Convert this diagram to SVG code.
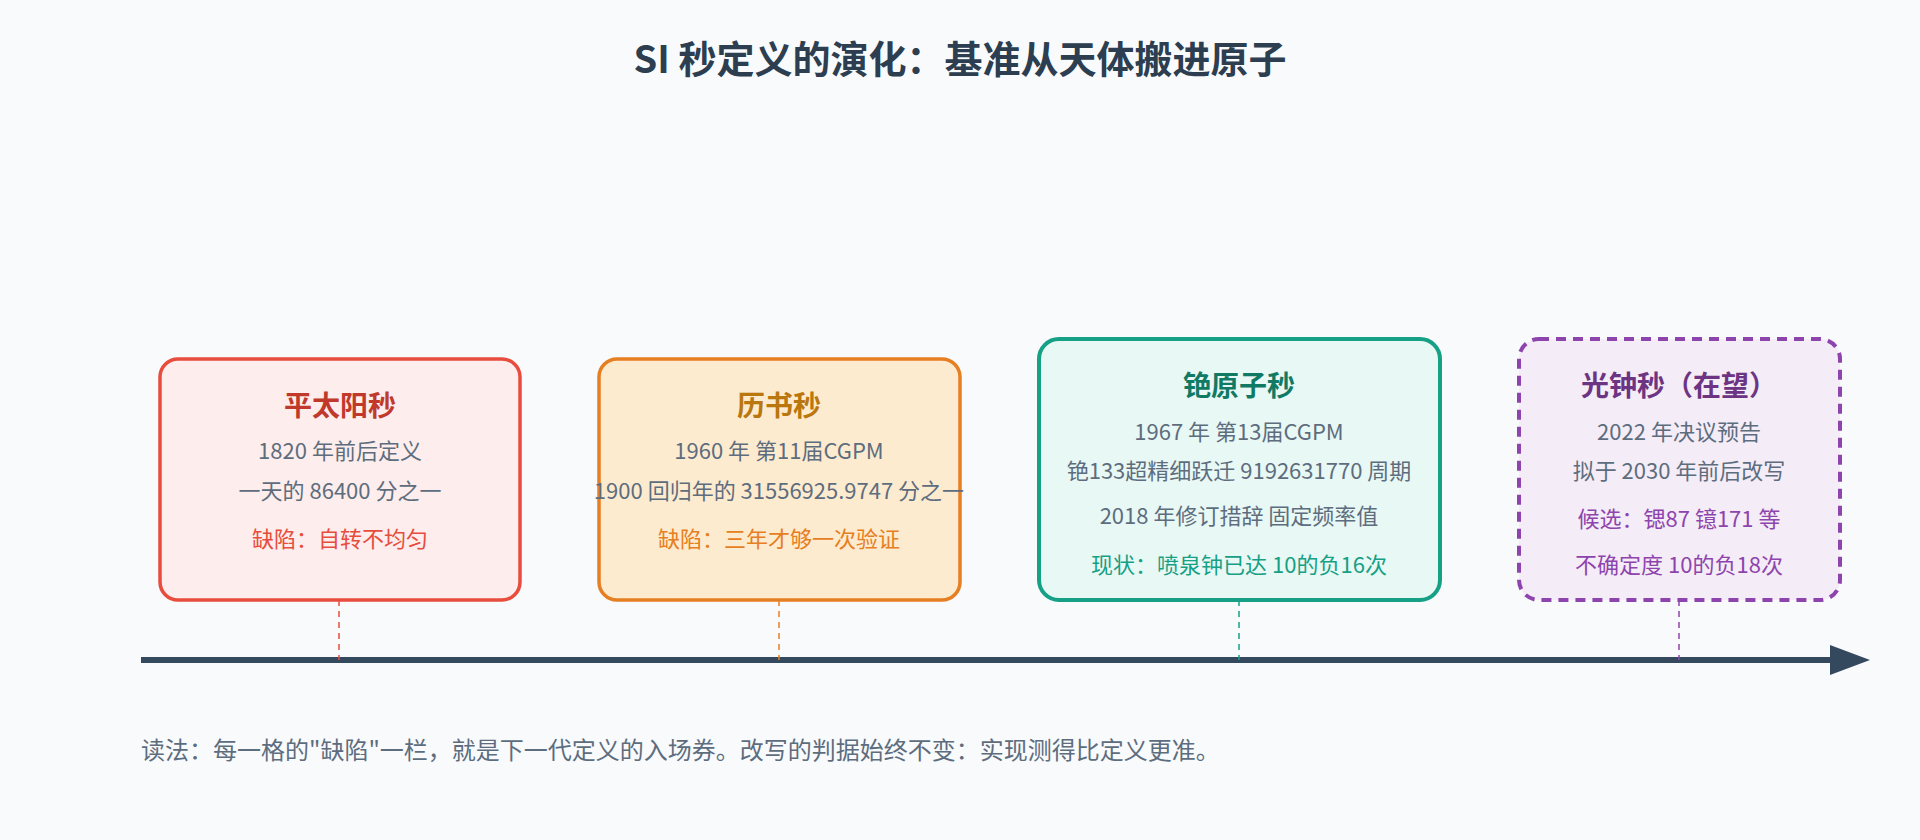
<svg xmlns="http://www.w3.org/2000/svg" width="1920" height="840" viewBox="0 0 1920 840">
<defs>
<style>
text{font-family:"Noto Sans CJK SC","Noto Sans",sans-serif;text-anchor:middle}
.t{font-size:28px;font-weight:bold}
.b{font-size:22px;fill:#5d6d7e}
.c{stroke-width:1.5;stroke-dasharray:6 5}
</style>
</defs>
<rect width="1920" height="840" fill="#f8fafc"/>
<text x="960" y="73" style="font-size:38px;font-weight:bold;fill:#2c3e50">SI 秒定义的演化：基准从天体搬进原子</text>
<g id="connectors">
<line x1="141" y1="660" x2="1832" y2="660" stroke="#34495e" stroke-width="6"/>
<path d="M1830,645L1870,660L1830,675z" fill="#34495e"/>
<line class="c" x1="339" y1="600" x2="339" y2="660" stroke="#e74c3c"/>
<line class="c" x1="779" y1="600" x2="779" y2="660" stroke="#e67e22"/>
<line class="c" x1="1239" y1="600" x2="1239" y2="660" stroke="#16a085"/>
<line class="c" x1="1679" y1="600" x2="1679" y2="660" stroke="#8e44ad"/>
</g>
<g id="n1">
<rect x="160" y="359" width="360" height="241" rx="18" fill="#fdedec" stroke="#e74c3c" stroke-width="3.5"/>
<text class="t" x="340" y="416" fill="#c0392b">平太阳秒</text>
<text class="b" x="340" y="459">1820 年前后定义</text>
<text class="b" x="340" y="499">一天的 86400 分之一</text>
<text x="340" y="547" style="font-size:22px;fill:#e74c3c">缺陷：自转不均匀</text>
</g>
<g id="n2">
<rect x="599" y="359" width="361" height="241" rx="18" fill="#fdebd0" stroke="#e67e22" stroke-width="3.5"/>
<text class="t" x="779" y="416" fill="#b9770e">历书秒</text>
<text class="b" x="779" y="459">1960 年 第11届CGPM</text>
<text class="b" x="779" y="499">1900 回归年的 31556925.9747 分之一</text>
<text x="779" y="547" style="font-size:22px;fill:#e67e22">缺陷：三年才够一次验证</text>
</g>
<g id="n3">
<rect x="1039" y="339" width="401" height="261" rx="20" fill="#e8f8f5" stroke="#16a085" stroke-width="4"/>
<text class="t" x="1239" y="396" fill="#117a65">铯原子秒</text>
<text class="b" x="1239" y="440">1967 年 第13届CGPM</text>
<text class="b" x="1239" y="479">铯133超精细跃迁 9192631770 周期</text>
<text class="b" x="1239" y="524">2018 年修订措辞 固定频率值</text>
<text x="1239" y="573" style="font-size:22px;fill:#16a085">现状：喷泉钟已达 10的负16次</text>
</g>
<g id="n4">
<rect x="1519" y="339" width="321" height="261" rx="20" fill="#f4ecf7" stroke="#8e44ad" stroke-width="4" stroke-dasharray="10 7"/>
<text class="t" x="1679" y="396" fill="#6c3483">光钟秒（在望）</text>
<text class="b" x="1679" y="440">2022 年决议预告</text>
<text class="b" x="1679" y="479">拟于 2030 年前后改写</text>
<text x="1679" y="527" style="font-size:22px;fill:#8e44ad">候选：锶87 镱171 等</text>
<text x="1679" y="573" style="font-size:22px;fill:#8e44ad">不确定度 10的负18次</text>
</g>
<text x="141" y="759" style="font-size:24px;fill:#5d6d7e;text-anchor:start">读法：每一格的"缺陷"一栏，就是下一代定义的入场券。改写的判据始终不变：实现测得比定义更准。</text>
</svg>
